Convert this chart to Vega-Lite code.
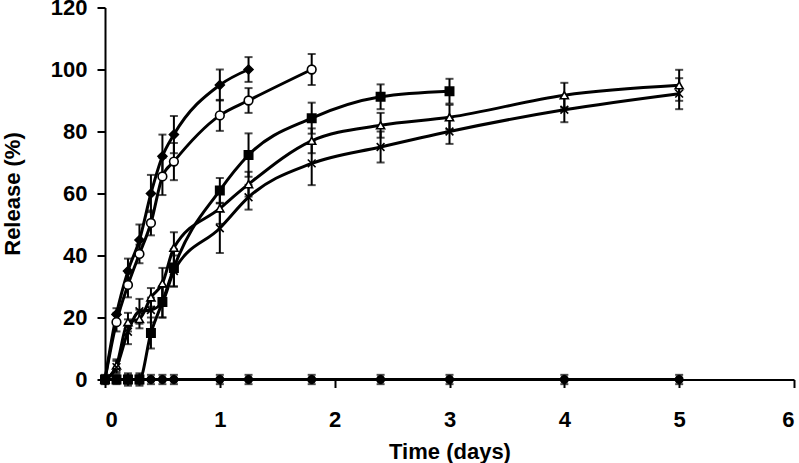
{
  "$schema": "https://vega.github.io/schema/vega-lite/v6.json",
  "width": 689,
  "height": 372,
  "autosize": {"type": "none"},
  "padding": {"left": 105, "top": 7.5, "right": 5, "bottom": 83.5},
  "background": "white",
  "config": {"view": {"stroke": null}, "font": "Liberation Sans"},
  "data": {
    "values": [
      {"s": "A", "t": 0, "v": 0, "e": 0},
      {"s": "A", "t": 0.1, "v": 21, "e": 2},
      {"s": "A", "t": 0.2, "v": 35, "e": 4},
      {"s": "A", "t": 0.3, "v": 45, "e": 5},
      {"s": "A", "t": 0.4, "v": 60, "e": 6},
      {"s": "A", "t": 0.5, "v": 72, "e": 7},
      {"s": "A", "t": 0.6, "v": 79, "e": 6},
      {"s": "A", "t": 1, "v": 95, "e": 5},
      {"s": "A", "t": 1.25, "v": 100, "e": 4},
      {"s": "B", "t": 0, "v": 0, "e": 0},
      {"s": "B", "t": 0.1, "v": 18.5, "e": 3},
      {"s": "B", "t": 0.2, "v": 30.5, "e": 4},
      {"s": "B", "t": 0.3, "v": 40.5, "e": 3},
      {"s": "B", "t": 0.4, "v": 50.5, "e": 4},
      {"s": "B", "t": 0.5, "v": 65.5, "e": 6},
      {"s": "B", "t": 0.6, "v": 70.3, "e": 6},
      {"s": "B", "t": 1, "v": 85.2, "e": 5},
      {"s": "B", "t": 1.25, "v": 90, "e": 4},
      {"s": "B", "t": 1.8, "v": 100, "e": 5},
      {"s": "C", "t": 0, "v": 0, "e": 0},
      {"s": "C", "t": 0.1, "v": 0, "e": 1},
      {"s": "C", "t": 0.2, "v": 0, "e": 2},
      {"s": "C", "t": 0.3, "v": 0, "e": 2},
      {"s": "C", "t": 0.4, "v": 15, "e": 5},
      {"s": "C", "t": 0.5, "v": 25, "e": 5},
      {"s": "C", "t": 0.6, "v": 36, "e": 6},
      {"s": "C", "t": 1, "v": 61, "e": 4},
      {"s": "C", "t": 1.25, "v": 72.4, "e": 7},
      {"s": "C", "t": 1.8, "v": 84.3, "e": 5},
      {"s": "C", "t": 2.4, "v": 91.2, "e": 4},
      {"s": "C", "t": 3, "v": 93, "e": 4},
      {"s": "D", "t": 0, "v": 0, "e": 0},
      {"s": "D", "t": 0.1, "v": 4.5, "e": 2},
      {"s": "D", "t": 0.2, "v": 18.5, "e": 3},
      {"s": "D", "t": 0.3, "v": 19.5, "e": 3},
      {"s": "D", "t": 0.4, "v": 26.5, "e": 3},
      {"s": "D", "t": 0.5, "v": 31, "e": 5},
      {"s": "D", "t": 0.6, "v": 42.5, "e": 5},
      {"s": "D", "t": 1, "v": 55.2, "e": 5},
      {"s": "D", "t": 1.25, "v": 63, "e": 4},
      {"s": "D", "t": 1.8, "v": 77, "e": 4},
      {"s": "D", "t": 2.4, "v": 82, "e": 4},
      {"s": "D", "t": 3, "v": 84.6, "e": 4},
      {"s": "D", "t": 4, "v": 91.7, "e": 4},
      {"s": "D", "t": 5, "v": 94.9, "e": 5},
      {"s": "E", "t": 0, "v": 0, "e": 0},
      {"s": "E", "t": 0.1, "v": 4, "e": 2},
      {"s": "E", "t": 0.2, "v": 15.4, "e": 4},
      {"s": "E", "t": 0.3, "v": 22, "e": 4},
      {"s": "E", "t": 0.4, "v": 22.4, "e": 4},
      {"s": "E", "t": 0.5, "v": 25, "e": 5},
      {"s": "E", "t": 0.6, "v": 35, "e": 5},
      {"s": "E", "t": 1, "v": 48.8, "e": 8},
      {"s": "E", "t": 1.25, "v": 58.8, "e": 4},
      {"s": "E", "t": 1.8, "v": 69.7, "e": 7},
      {"s": "E", "t": 2.4, "v": 75, "e": 5},
      {"s": "E", "t": 3, "v": 80, "e": 4},
      {"s": "E", "t": 4, "v": 87, "e": 4},
      {"s": "E", "t": 5, "v": 92.2, "e": 5},
      {"s": "F", "t": 0, "v": 0, "e": 1.5},
      {"s": "F", "t": 0.1, "v": 0, "e": 1.5},
      {"s": "F", "t": 0.2, "v": 0, "e": 1.5},
      {"s": "F", "t": 0.3, "v": 0, "e": 1.5},
      {"s": "F", "t": 0.4, "v": 0, "e": 1.5},
      {"s": "F", "t": 0.5, "v": 0, "e": 1.5},
      {"s": "F", "t": 0.6, "v": 0, "e": 1.5},
      {"s": "F", "t": 1, "v": 0, "e": 1.5},
      {"s": "F", "t": 1.25, "v": 0, "e": 1.5},
      {"s": "F", "t": 1.8, "v": 0, "e": 1.5},
      {"s": "F", "t": 2.4, "v": 0, "e": 1.5},
      {"s": "F", "t": 3, "v": 0, "e": 1.5},
      {"s": "F", "t": 4, "v": 0, "e": 1.5},
      {"s": "F", "t": 5, "v": 0, "e": 1.5}
    ]
  },
  "encoding": {
    "x": {
      "field": "t",
      "type": "quantitative",
      "scale": {"domain": [0, 6], "nice": false, "zero": false},
      "axis": {
        "title": "Time (days)",
        "values": [0, 1, 2, 3, 4, 5, 6],
        "grid": false,
        "domainColor": "black",
        "domainWidth": 2,
        "tickColor": "black",
        "tickWidth": 2,
        "tickSize": 8,
        "labelFont": "Liberation Sans",
        "labelFontWeight": "bold",
        "labelFontSize": 22,
        "labelColor": "black",
        "labelPadding": 22,
        "labelBaseline": "top",
        "titleFont": "Liberation Sans",
        "titleFontWeight": "bold",
        "titleFontSize": 22,
        "titleColor": "black",
        "titleBaseline": "middle",
        "titleY": 71.5
      }
    },
    "y": {
      "field": "v",
      "type": "quantitative",
      "scale": {"domain": [0, 120], "nice": false},
      "axis": {
        "title": "Release (%)",
        "values": [0, 20, 40, 60, 80, 100, 120],
        "grid": false,
        "domainColor": "black",
        "domainWidth": 2,
        "tickColor": "black",
        "tickWidth": 2,
        "tickSize": 8,
        "labelFont": "Liberation Sans",
        "labelFontWeight": "bold",
        "labelFontSize": 22,
        "labelColor": "black",
        "labelPadding": 10,
        "titleFont": "Liberation Sans",
        "titleFontWeight": "bold",
        "titleFontSize": 22,
        "titleColor": "black",
        "titleAngle": 270,
        "titleBaseline": "middle",
        "titleX": -93
      }
    }
  },
  "layer": [
    {
      "mark": {"type": "line", "interpolate": "monotone", "color": "black", "strokeWidth": 3},
      "encoding": {"detail": {"field": "s"}}
    },
    {
      "transform": [{"filter": "datum.e > 0"}],
      "mark": {"type": "errorbar", "ticks": {"size": 8, "thickness": 2}, "thickness": 2, "color": "black"},
      "encoding": {"yError": {"field": "e"}}
    },
    {
      "mark": {"type": "point", "filled": true, "stroke": "black", "strokeWidth": 1.6, "opacity": 1},
      "encoding": {
        "shape": {
          "field": "s",
          "scale": {"domain": ["A", "B", "C", "D", "E", "F"], "range": ["diamond", "circle", "square", "triangle-up", "M-1,-1L1,1M-1,1L1,-1", "circle"]},
          "legend": null
        },
        "fill": {
          "field": "s",
          "scale": {"domain": ["A", "B", "C", "D", "E", "F"], "range": ["black", "white", "black", "white", "transparent", "black"]},
          "legend": null
        },
        "size": {
          "field": "s",
          "type": "nominal",
          "scale": {"domain": ["A", "B", "C", "D", "E", "F"], "range": [80, 55, 50, 75, 60, 60]},
          "legend": null
        }
      }
    }
  ]
}
